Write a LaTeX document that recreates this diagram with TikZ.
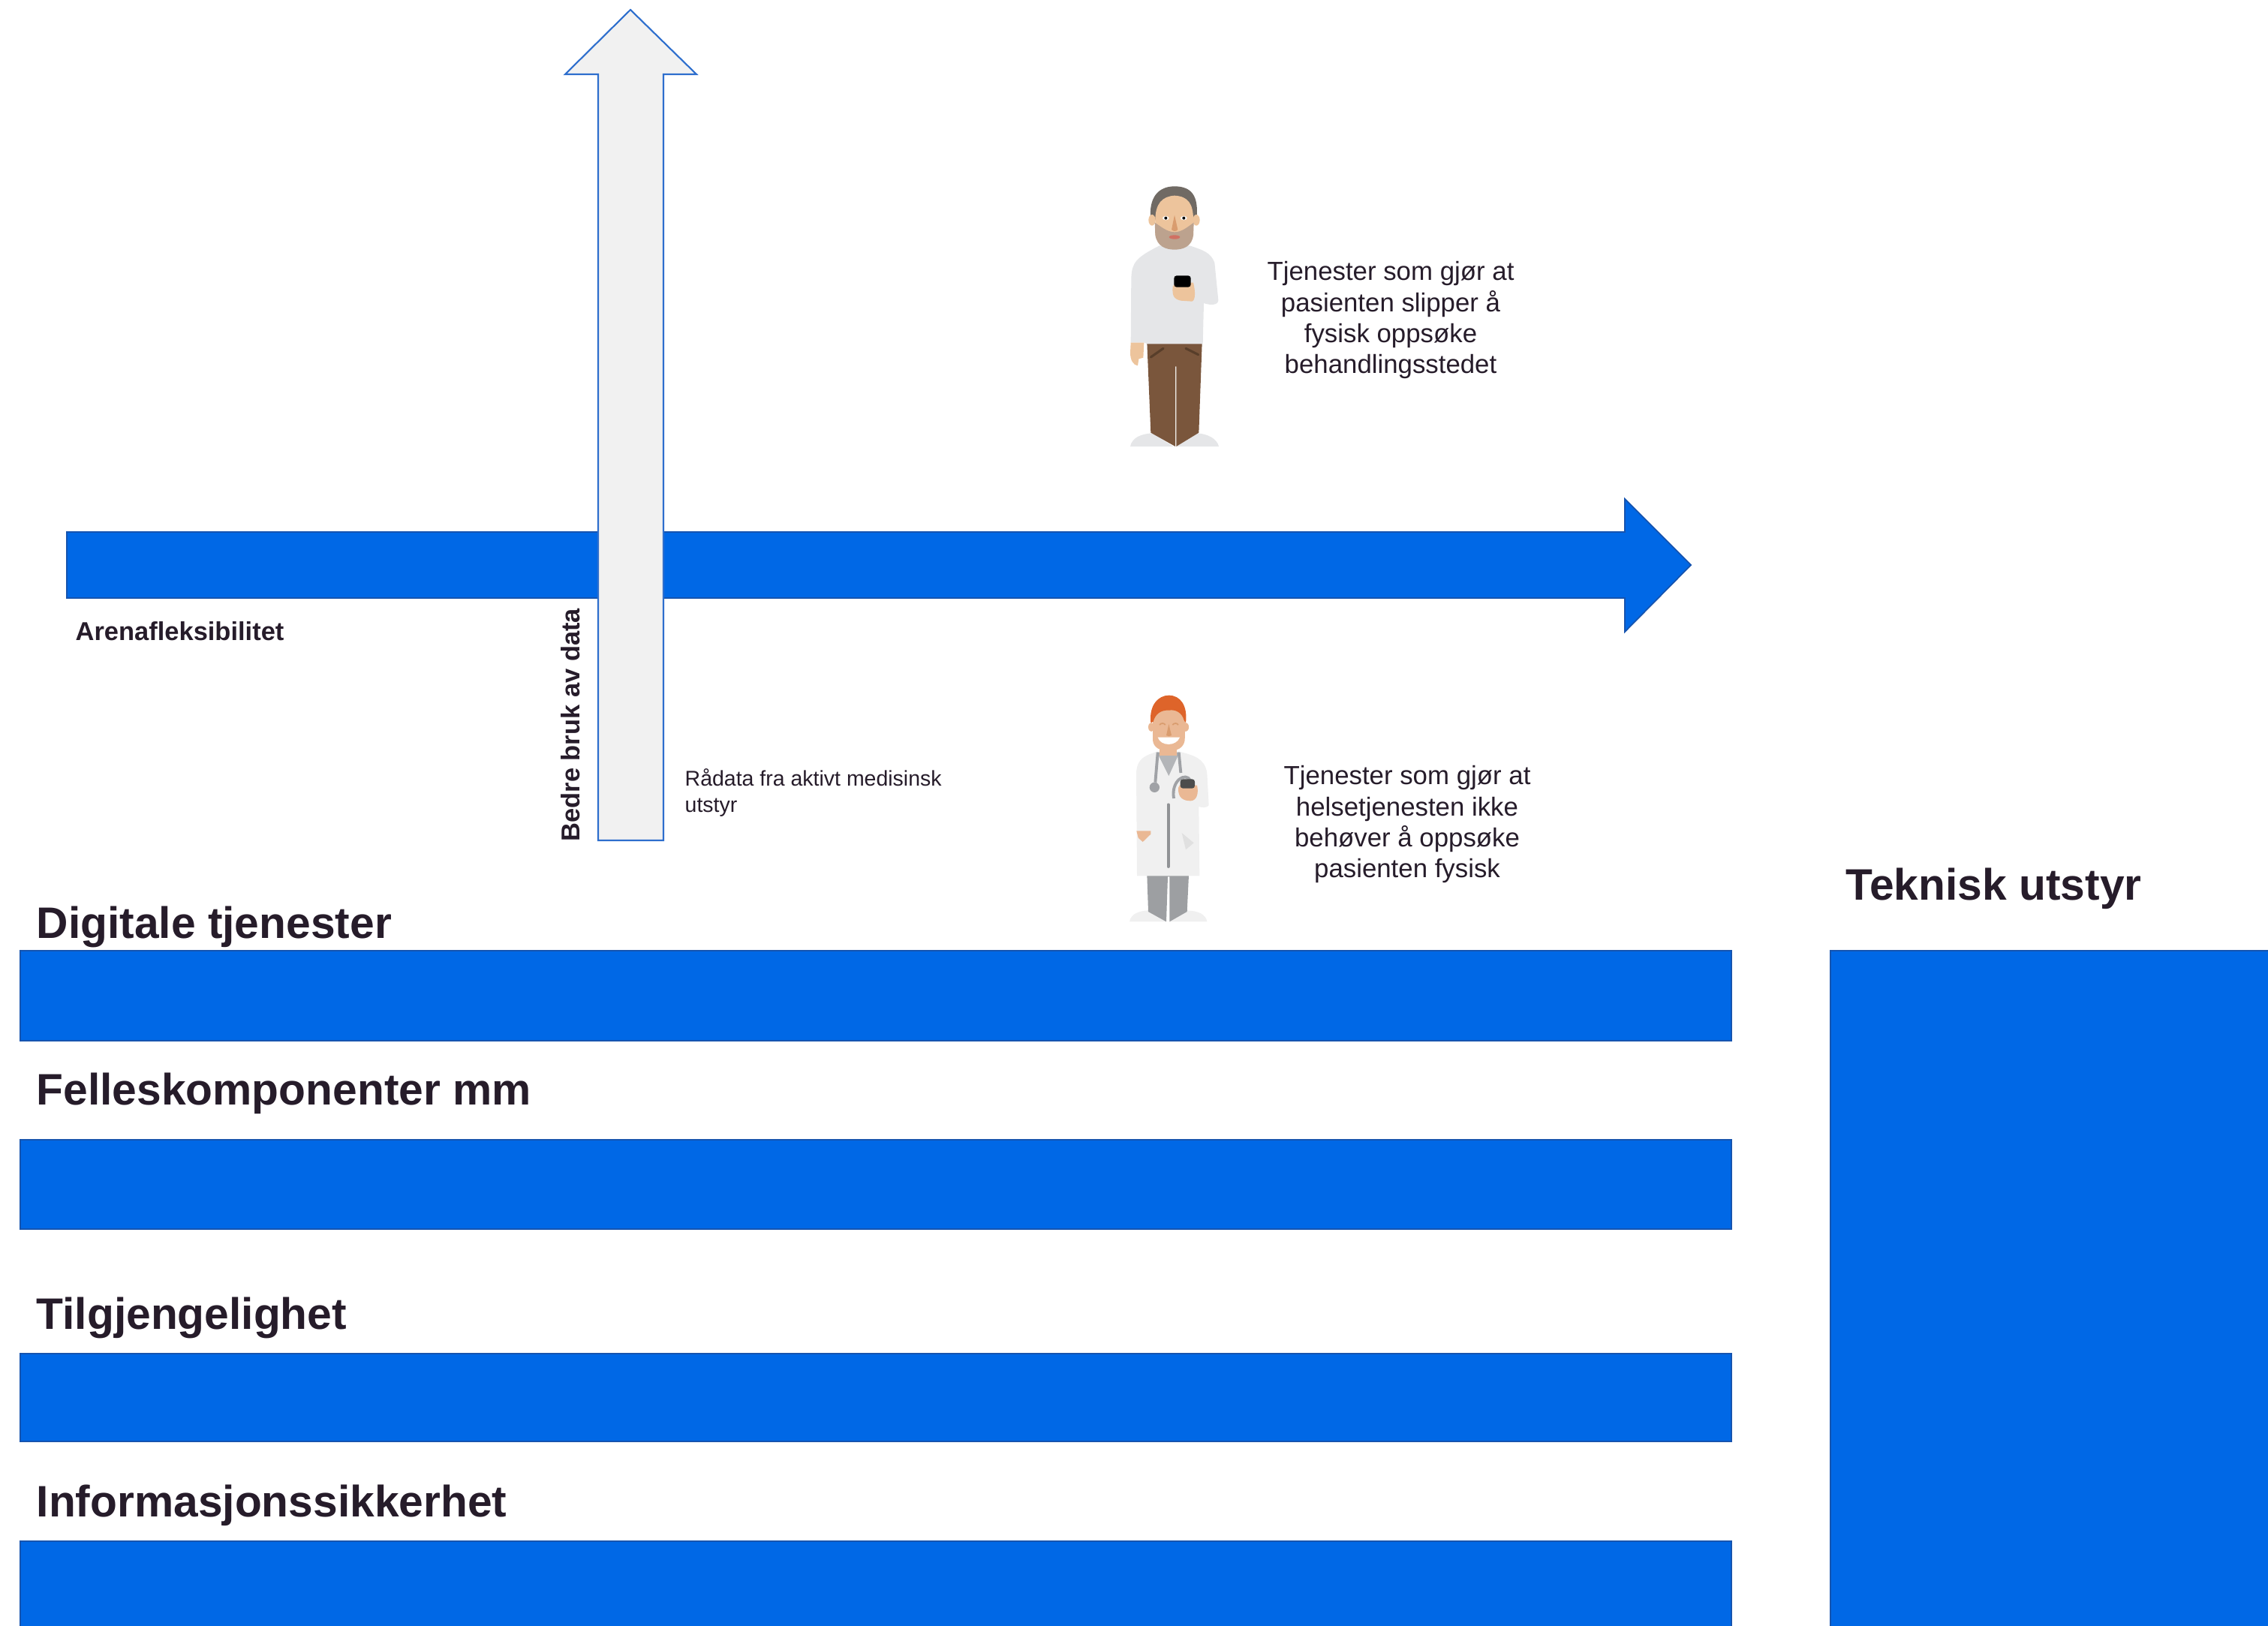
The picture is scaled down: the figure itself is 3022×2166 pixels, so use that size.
\documentclass[tikz,border=0pt]{standalone}
\usepackage{fontspec}
\setmainfont{Liberation Sans}

\definecolor{blaa}{RGB}{0,104,230}
\definecolor{blaakant}{RGB}{22,84,175}
\definecolor{lysgraa}{RGB}{241,241,241}
\definecolor{pilkant}{RGB}{45,110,205}
\definecolor{tekstfarge}{RGB}{38,28,42}
% farger til figurene
\definecolor{hud}{RGB}{237,196,156}
\definecolor{hudlege}{RGB}{234,184,148}
\definecolor{nese}{RGB}{217,156,110}
\definecolor{haar}{RGB}{112,106,100}
\definecolor{haarlege}{RGB}{222,100,42}
\definecolor{skjegg}{RGB}{188,162,142}
\definecolor{genser}{RGB}{229,230,232}
\definecolor{bukse}{RGB}{122,86,60}
\definecolor{lomme}{RGB}{88,62,42}
\definecolor{frakk}{RGB}{240,240,240}
\definecolor{staal}{RGB}{160,162,166}
\definecolor{graabukse}{RGB}{157,159,162}

\tikzset{
	bande/.style={fill=blaa, draw=blaakant, line width=0.6pt},
	tittel/.style={anchor=base west, inner sep=0pt, text=tekstfarge, font=\fontsize{16.7}{19}\selectfont\bfseries},
	liten/.style={inner sep=0pt, text=tekstfarge, font=\fontsize{9.8}{11.8}\selectfont\bfseries},
	tekst/.style={inner sep=0pt, text=tekstfarge, font=\fontsize{9.9}{11.75}\selectfont},
}

\begin{document}
\begin{tikzpicture}[x=0.01cm, y=-0.01cm]
	\useasboundingbox (0,0) rectangle (3022,2166);
	
	% pil mot hoeyre
	\filldraw[fill=blaa, draw=blaakant, line width=0.5pt] (89,709) -- (2165,709) -- (2165,665) -- (2253,753) -- (2165,842) -- (2165,797) -- (89,797) -- cycle;
	% pil oppover
	\filldraw[fill=lysgraa, draw=pilkant, line width=0.6pt] (797,1120) -- (797,99) -- (753,99) -- (840,13) -- (928,99) -- (884,99) -- (884,1120) -- cycle;
	
	\node[liten, anchor=base west] (arena) at (100,853) {Arenafleksibilitet};
	\node[liten, rotate=90, anchor=base west] (bedre) at (772,1122) {Bedre bruk av data};
	\node[tekst, anchor=north west, align=left, font=\fontsize{8.1}{9.96}\selectfont] (raadata) at (912,1024) {Rådata fra aktivt medisinsk\\utstyr};
	\node[tekst, anchor=north, align=center] (pasient) at (1853,348) {Tjenester som gjør at\\pasienten slipper å\\fysisk oppsøke\\behandlingsstedet};
	\node[tekst, anchor=north, align=center] (helse) at (1875,1020) {Tjenester som gjør at\\helsetjenesten ikke\\behøver å oppsøke\\pasienten fysisk};
	
	% pasienten
	\begin{scope}[shift={(1480,230)}, scale=1/3]
		\fill[genser] (78,1095) .. controls (85,1060) and (120,1045) .. (165,1042) -- (250,1095) -- cycle;
		\fill[genser] (262,1095) -- (345,1042) .. controls (390,1045) and (425,1065) .. (432,1095) -- cycle;
		\fill[bukse] (145,680) -- (365,680) -- (352,1040) -- (262,1095) -- (262,775) -- (258,775) -- (258,1095) -- (160,1040) -- cycle;
		\draw[lomme, line width=0.9pt, line cap=round] (160,738) -- (210,703) (300,703) -- (350,728);
		\fill[genser] (195,292) -- (315,292) .. controls (370,310) and (400,320) .. (415,360) -- (430,510) .. controls (430,530) and (400,532) .. (372,522) -- (368,685) -- (145,685) -- (135,680) -- (80,680) -- (82,420) .. controls (85,360) and (100,340) .. (195,292) -- cycle;
		\fill[hud] (80,680) -- (133,680) -- (130,740) -- (112,745) -- (108,772) .. controls (90,770) and (78,750) .. (78,720) -- cycle;
		\fill[hud] (248,455) .. controls (245,490) and (250,505) .. (280,512) -- (325,515) .. controls (340,510) and (338,470) .. (330,440) -- (260,440) -- cycle;
		\fill[black, rounded corners=1pt] (253,412) rectangle (320,458);
		% hodet
		\fill[haar] (160,190) .. controls (150,100) and (190,55) .. (255,55) .. controls (320,55) and (355,90) .. (342,190) -- cycle;
		\fill[hud] (165,190) ellipse (14 and 22);
		\fill[hud] (342,190) ellipse (14 and 22);
		\fill[hud] (178,190) .. controls (178,125) and (205,95) .. (255,92) .. controls (310,95) and (330,125) .. (330,190) -- (330,250) -- (178,250) -- cycle;
		\fill[skjegg] (176,200) .. controls (200,215) and (225,238) .. (255,238) .. controls (285,238) and (310,215) .. (332,200) -- (330,250) .. controls (325,295) and (290,308) .. (255,308) .. controls (220,308) and (185,295) .. (178,250) -- cycle;
		\fill[red!30!skjegg] (255,258) ellipse (22 and 8);
		\foreach \ox in {220,292}{
			\fill[white] (\ox,182) ellipse (13 and 8);
			\fill[black] (\ox,182) circle (6);}
		\fill[nese] (255,170) -- (243,228) .. controls (250,236) and (262,236) .. (268,228) -- cycle;
	\end{scope}
	
	% legen
	\begin{scope}[shift={(1480,910)}, scale=1/3]
		\fill[frakk] (75,955) .. controls (80,925) and (110,912) .. (150,910) -- (222,955) -- cycle;
		\fill[frakk] (235,955) -- (305,910) .. controls (350,912) and (380,925) .. (385,955) -- cycle;
		\fill[graabukse] (145,768) -- (312,768) -- (305,915) -- (235,955) -- (235,775) -- (228,775) -- (222,955) -- (150,915) -- cycle;
		\fill[frakk] (185,275) -- (275,275) .. controls (330,290) and (375,300) .. (385,360) -- (392,490) .. controls (385,500) and (365,500) .. (352,495) -- (355,772) -- (105,772) -- (102,360) .. controls (105,300) and (140,290) .. (185,275) -- cycle;
		\fill[staal!80] (185,278) -- (275,278) -- (232,372) -- cycle;
		\draw[staal, line width=1.1pt] (188,278) -- (178,398);
		\fill[staal] (175,418) circle (20);
		\draw[staal, line width=1.1pt] (272,278) -- (280,360);
		\draw[staal, line width=1.1pt] (252,462) .. controls (240,390) and (300,355) .. (318,390);
		\fill[hudlege] (270,420) .. controls (268,460) and (290,472) .. (320,472) .. controls (345,470) and (352,440) .. (345,410) -- (275,410) -- cycle;
		\fill[black!70, rounded corners=1pt] (278,385) rectangle (336,422);
		\draw[staal!90!black, line width=1.1pt, line cap=round] (230,487) -- (230,735);
		\fill[hudlege] (103,592) -- (160,592) -- (160,605) -- (128,636) -- (110,620) -- cycle;
		\fill[black!12] (284,600) -- (332,640) -- (300,667) -- cycle;
		% hodet
		\fill[hudlege] (162,177) ellipse (12 and 18);
		\fill[hudlege] (300,177) ellipse (12 and 18);
		\fill[hudlege] (195,240) rectangle (265,290);
		\fill[hudlege] (168,140) .. controls (170,110) and (200,100) .. (232,100) .. controls (265,100) and (296,110) .. (298,140) -- (296,230) .. controls (290,262) and (265,272) .. (232,272) .. controls (200,272) and (172,262) .. (168,230) -- cycle;
		\fill[haarlege] (160,160) .. controls (152,90) and (190,50) .. (232,50) .. controls (278,50) and (308,90) .. (300,160) -- (293,150) .. controls (285,120) and (260,105) .. (232,110) .. controls (200,108) and (178,125) .. (170,155) -- cycle;
		\draw[nese, line width=0.5pt] (195,168) .. controls (202,160) and (212,160) .. (218,168) (247,168) .. controls (254,160) and (264,160) .. (270,168);
		\fill[nese] (232,165) -- (222,210) .. controls (228,215) and (237,215) .. (243,210) -- cycle;
		\fill[white] (188,218) .. controls (200,255) and (262,255) .. (276,218) -- cycle;
	\end{scope}
	
	% lagene
	\foreach \topp/\bunn in {1267/1387,1519/1638,1804/1921,2054/2200}
		\filldraw[bande] (27,\topp) rectangle (2307,\bunn);
	\filldraw[bande] (2439,1267) rectangle (3060,2200);
	
	\foreach \navn/\y/\tittel in {digitale/1250/Digitale tjenester,felles/1472/Felleskomponenter mm,tilgang/1771/Tilgjengelighet,sikkerhet/2021/Informasjonssikkerhet}
		\node[tittel] (\navn) at (48,\y) {\tittel};
	\node[tittel] (teknisk) at (2459,1199) {Teknisk utstyr};
\end{tikzpicture}
\end{document}
